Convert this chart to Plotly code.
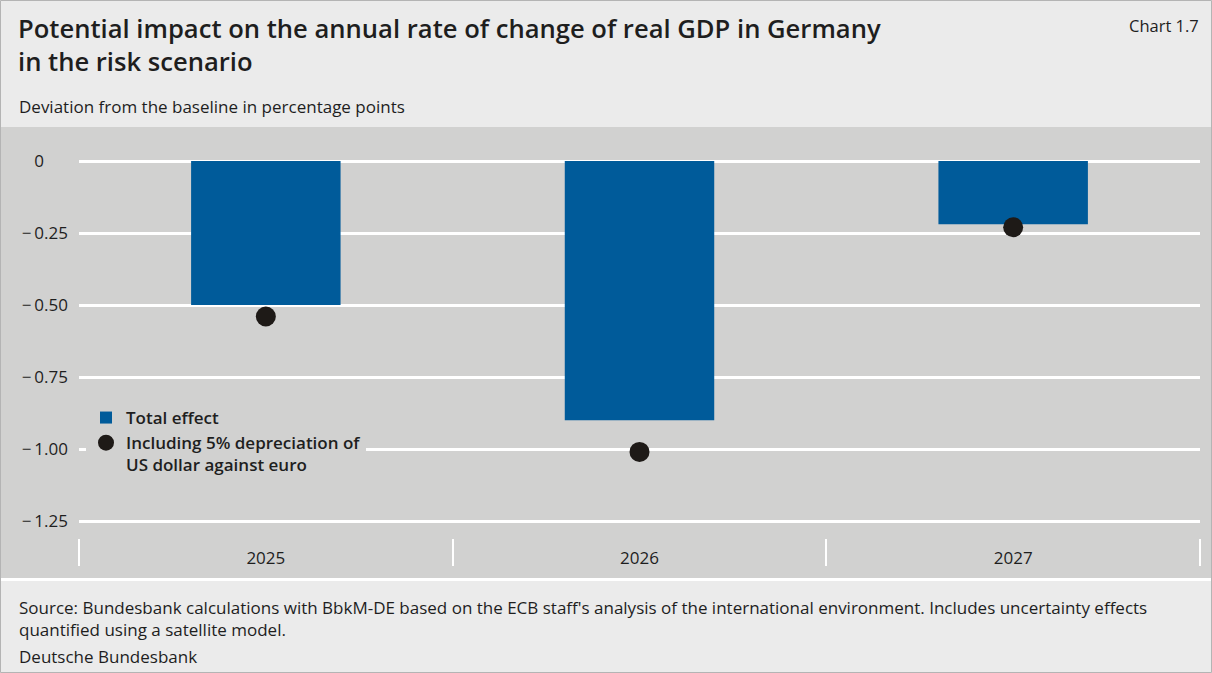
import plotly.graph_objects as go

# ---- data ----
years = ["2025", "2026", "2027"]
total_effect = [-0.50, -0.90, -0.22]
incl_usd_depreciation = [-0.54, -1.01, -0.23]
ytick_vals = [0, -0.25, -0.5, -0.75, -1.0, -1.25]
ytick_text = ["0<span style='color:rgba(0,0,0,0)'>.00</span>", "\u2212\u20090.25", "\u2212\u20090.50",
              "\u2212\u20090.75", "\u2212\u20091.00", "\u2212\u20091.25"]

# ---- layout geometry (pixels) ----
W, H = 1212, 673
L, R, T, B = 79, 1200, 140, 538
PX_PER_UNIT = 288.0
ZERO_PX = 161
y_top = (ZERO_PX - T) / PX_PER_UNIT
y_bot = -(B - ZERO_PX) / PX_PER_UNIT

def px2x(px):
    return (px - L) / (R - L)

def py2y(py):
    return (B - py) / (B - T)

FONT = "Open Sans"
TXT = "#1e1e1e"
BAR = "#005b9a"
DOT = "#1e1a17"
PLOT_BG = "#d1d1d0"
PAPER_BG = "#ebebeb"

fig = go.Figure()
fig.add_trace(go.Bar(
    x=years, y=total_effect, name="Total effect",
    marker=dict(color=BAR, line=dict(width=0)), width=0.4,
))
fig.add_trace(go.Scatter(
    x=years, y=incl_usd_depreciation, mode="markers",
    name="Including 5% depreciation of<br>US dollar against euro",
    marker=dict(color=DOT, size=20, line=dict(width=0)),
))

shapes = [
    dict(type="rect", xref="paper", yref="paper", layer="below",
         x0=px2x(0), x1=px2x(W), y0=py2y(578), y1=py2y(127),
         fillcolor=PLOT_BG, line=dict(width=0)),
    dict(type="line", xref="paper", yref="paper", layer="below",
         x0=px2x(0), x1=px2x(W), y0=py2y(579.5), y1=py2y(579.5),
         line=dict(color="white", width=3)),
    dict(type="rect", xref="paper", yref="paper", layer="above",
         x0=px2x(0.5), x1=px2x(W - 0.5), y0=py2y(H - 0.5), y1=py2y(0.5),
         line=dict(color="#b4b4b4", width=1)),
]

annotations = [
    dict(text="Potential impact on the annual rate of change of real GDP in Germany<br>in the risk scenario",
         xref="paper", yref="paper", x=px2x(16), y=py2y(9), xanchor="left", yanchor="top",
         align="left", showarrow=False,
         font=dict(family=FONT, size=25.6, color=TXT, weight=600)),
    dict(text="Deviation from the baseline in percentage points", xref="paper", yref="paper",
         x=px2x(17), y=py2y(107), xanchor="left", yanchor="middle", showarrow=False,
         font=dict(family=FONT, size=17, color=TXT)),
    dict(text="Chart 1.7", xref="paper", yref="paper",
         x=px2x(1201), y=py2y(25), xanchor="right", yanchor="middle", showarrow=False,
         font=dict(family=FONT, size=16.5, color=TXT)),
    dict(text="Source: Bundesbank calculations with BbkM-DE based on the ECB staff's analysis of the international environment. Includes uncertainty effects<br>quantified using a satellite model.",
         xref="paper", yref="paper", x=px2x(17), y=py2y(594), xanchor="left", yanchor="top",
         align="left", showarrow=False, font=dict(family=FONT, size=17, color=TXT)),
    dict(text="Deutsche Bundesbank", xref="paper", yref="paper",
         x=px2x(17), y=py2y(656), xanchor="left", yanchor="middle", showarrow=False,
         font=dict(family=FONT, size=17, color=TXT)),
]

fig.update_layout(
    width=W, height=H,
    margin=dict(l=L, r=W - R, t=T, b=H - B),
    paper_bgcolor=PAPER_BG, plot_bgcolor=PLOT_BG,
    font=dict(family=FONT, size=16, color=TXT),
    showlegend=True,
    legend=dict(x=px2x(86), y=py2y(400), xanchor="left", yanchor="top",
                bgcolor=PLOT_BG, borderwidth=0, valign="top",
                font=dict(family=FONT, size=17, color=TXT, weight=600),
                tracegroupgap=0, itemclick=False),
    xaxis=dict(type="category", tickson="boundaries", ticks="outside", ticklen=27,
               tickwidth=2, tickcolor="white", showgrid=False, showline=False,
               zeroline=False, ticklabelstandoff=8,
               tickfont=dict(family=FONT, size=17, color=TXT)),
    yaxis=dict(range=[y_bot, y_top], tickvals=ytick_vals, ticktext=ytick_text,
               showgrid=True, gridcolor="white", gridwidth=3, zeroline=False,
               showline=False, ticks="", ticklabelstandoff=10,
               tickfont=dict(family=FONT, size=17, color=TXT)),
    shapes=shapes, annotations=annotations,
)

fig.write_html("out.html", config={"displayModeBar": False},
               post_script="document.body.style.margin='0px';")
